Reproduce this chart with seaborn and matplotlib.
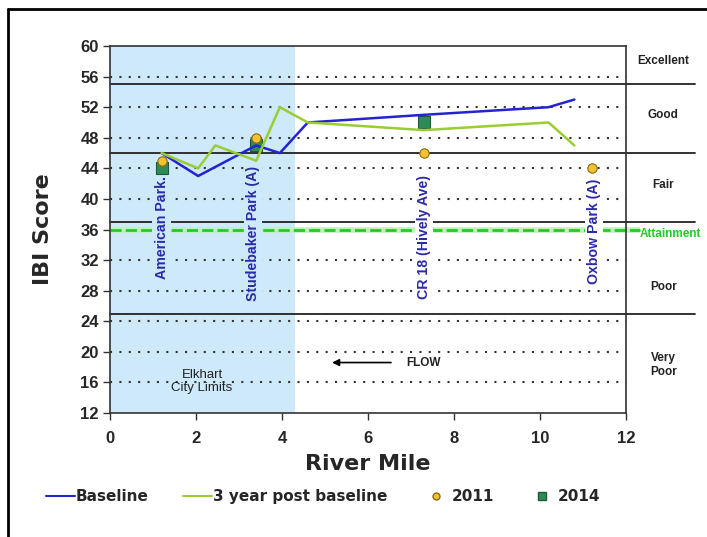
import matplotlib
matplotlib.use("Agg")
import matplotlib.pyplot as plt
from matplotlib.lines import Line2D
import seaborn as sns
import pandas as pd

# IBI scores along the river
baseline_mile = [1.2, 2.05, 3.4, 3.95, 4.6, 7.3, 10.2, 10.8]
baseline_ibi = [46, 43, 47, 46, 50, 51, 52, 53]
post_mile = [1.2, 2.05, 2.45, 3.4, 3.95, 4.6, 7.3, 10.2, 10.8]
post_ibi = [46, 44, 47, 45, 52, 50, 49, 50, 47]
y2011_mile = [1.2, 3.4, 7.3, 11.2]
y2011_ibi = [45, 48, 46, 44]
y2014_mile = [1.2, 3.4, 7.3]
y2014_ibi = [44, 47, 50]

sites = ["American Park.", "Studebaker Park (A)", "CR 18 (Hively Ave)", "Oxbow Park (A)"]
site_mile = [1.2, 3.33, 7.3, 11.25]
site_label_top = [43.0, 44.3, 43.1, 42.7]

class_bounds = [55, 46, 37, 25]
class_names = ["Excellent", "Good", "Fair", "Poor", "Very\nPoor"]
class_label_y = [58.0, 51.0, 41.8, 28.5, 18.3]
attainment = 36

yticks = list(range(12, 61, 4))
xticks = list(range(0, 13, 2))

sns.set_theme(style="white")
plt.rcParams["font.family"] = ["Liberation Sans", "DejaVu Sans"]

fig = plt.figure(figsize=(7.07, 5.37), dpi=100)
ax = fig.add_axes([0.1556, 0.2309, 0.7298, 0.6834])
ax.set_xlim(0, 12)
ax.set_ylim(12, 60)

SHADE = "#cde9fa"
NAVY = "#2b2ba6"

# city limits shading
ax.axvspan(0, 4.3, color=SHADE, zorder=0, lw=0)

# dotted gridlines at each tick
for v in yticks[1:-1]:
    if v == attainment:
        continue
    ax.axhline(v, color="#333333", lw=1.5, ls=(0, (1, 3.5)), zorder=1)

# class boundaries extending to the class labels
ytr = ax.get_yaxis_transform()
for b in class_bounds:
    ax.plot([0, 1.134], [b, b], transform=ytr, color="#222222", lw=1.3,
            clip_on=False, zorder=2)

# attainment line
ax.plot([0, 1.027], [attainment, attainment], transform=ytr, color="#bdf2bd",
        lw=4, clip_on=False, zorder=2, solid_capstyle="butt")
ax.plot([0, 1.027], [attainment, attainment], transform=ytr, color="#22cc22",
        lw=2, ls=(0, (4, 1.5)), clip_on=False, zorder=2)

# site labels
for name, m, top in zip(sites, site_mile, site_label_top):
    bg = SHADE if m < 4.3 else "white"
    ax.text(m, top, name, rotation=90, ha="center", va="top", color=NAVY,
            fontsize=10.2, fontweight="bold", zorder=3,
            bbox=dict(boxstyle="square,pad=0.15", fc=bg, ec="none"))

# observations
df14 = pd.DataFrame({"mile": y2014_mile, "ibi": y2014_ibi})
df11 = pd.DataFrame({"mile": y2011_mile, "ibi": y2011_ibi})
sns.scatterplot(data=df14, x="mile", y="ibi", ax=ax, marker="s", s=75,
                color="#2e8b57", edgecolor="#1e5a36", linewidth=0.8, zorder=4)
sns.scatterplot(data=df11, x="mile", y="ibi", ax=ax, marker="o", s=45,
                color="#f2c230", edgecolor="#8a6a10", linewidth=0.8, zorder=5)

dfb = pd.DataFrame({"mile": baseline_mile, "ibi": baseline_ibi})
dfp = pd.DataFrame({"mile": post_mile, "ibi": post_ibi})
sns.lineplot(data=dfb, x="mile", y="ibi", ax=ax, sort=False, estimator=None,
             color="#2323d0", lw=1.8, zorder=6)
sns.lineplot(data=dfp, x="mile", y="ibi", ax=ax, sort=False, estimator=None,
             color="#9acd32", lw=1.8, zorder=6)

# class labels on the right
for name, yv in zip(class_names, class_label_y):
    ax.text(1.072, yv, name, transform=ytr, ha="center", va="center",
            fontsize=8.5, fontweight="bold", color="#222222")
ax.text(1.087, 35.4, "Attainment", transform=ytr, ha="center", va="center",
        fontsize=8.5, fontweight="bold", color="#22cc22")

# annotations
ax.text(2.14, 16.1, "Elkhart\nCity Limits", ha="center", va="center",
        fontsize=9.5, color="#222222", linespacing=1.05)
ax.annotate("", xy=(5.1, 18.6), xytext=(6.6, 18.6),
            arrowprops=dict(arrowstyle="-|>", color="black", lw=1.2,
                            mutation_scale=10))
ax.text(6.9, 18.6, "FLOW", ha="left", va="center", fontsize=8.5,
        fontweight="bold", color="#222222")

# axes styling
ax.set_xticks(xticks)
ax.set_yticks(yticks)
ax.set_xticklabels([str(t) for t in xticks], fontsize=12, fontweight="bold")
ax.set_yticklabels([str(t) for t in yticks], fontsize=12, fontweight="bold")
ax.tick_params(axis="both", direction="out", length=5, width=1, color="#333333",
               bottom=True, left=True, pad=3)
ax.tick_params(axis="x", pad=8)
for s in ax.spines.values():
    s.set_color("#333333")
    s.set_linewidth(1.2)
    s.set_visible(True)
ax.set_xlabel("River Mile", fontsize=16, fontweight="bold",
              family="DejaVu Sans", labelpad=6)
ax.set_ylabel("IBI Score", fontsize=16, fontweight="bold",
              family="DejaVu Sans", labelpad=20)

# legend
handles = [
    Line2D([], [], color="#2323d0", lw=1.5),
    Line2D([], [], color="#9acd32", lw=1.5),
    Line2D([], [], ls="none", marker="o", ms=5, mfc="#f2c230", mec="#8a6a10"),
    Line2D([], [], ls="none", marker="s", ms=6, mfc="#2e8b57", mec="#1e5a36"),
]
labels = ["Baseline", "3 year post baseline", "2011", "2014"]
fig.legend(handles, labels, loc="center left", bbox_to_anchor=(0.045, 0.075),
           ncol=4, frameon=False, handlelength=1.9, handletextpad=0.1,
           columnspacing=2.2, prop=dict(family="DejaVu Sans", weight="bold",
                                        size=11))

# outer frame
fig.add_artist(Line2D([0.0115, 0.0115], [0, 0.983], color="black", lw=2,
                      transform=fig.transFigure))
fig.add_artist(Line2D([0.0115, 1.0], [0.983, 0.983], color="black", lw=2,
                      transform=fig.transFigure))

fig.savefig("out.png", dpi=100)
